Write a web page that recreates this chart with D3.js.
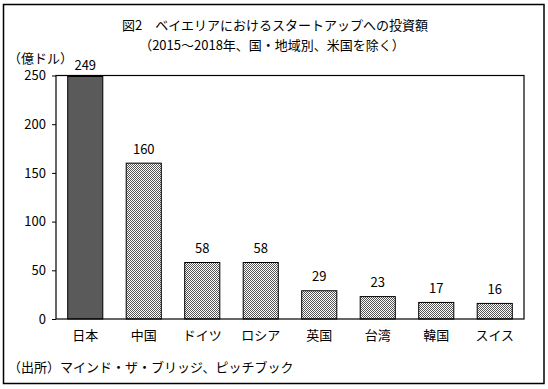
<!DOCTYPE html>
<html><head><meta charset="utf-8">
<script src="https://cdn.jsdelivr.net/npm/d3@7"></script>
<style>
html,body{margin:0;padding:0;background:#fff;}
svg{display:block;}
text{font-family:"Noto Sans CJK JP","Noto Sans",sans-serif;fill:#000;}
</style></head>
<body>
<svg id="c" width="548" height="389"></svg>
<script>
const categories = ["日本","中国","ドイツ","ロシア","英国","台湾","韓国","スイス"];
const values = [249,160,58,58,29,23,17,16];
const yTicks = [0,50,100,150,200,250];
const title = "図2\u3000ベイエリアにおけるスタートアップへの投資額";
const subtitle = "（2015～2018年、国・地域別、米国を除く）";
const unitLabel = "（億ドル）";
const sourceNote = "（出所）マインド・ザ・ブリッジ、ピッチブック";

const svg = d3.select("#c");
const defs = svg.append("defs");
const pat = defs.append("pattern").attr("id","dots").attr("width",2).attr("height",2)
  .attr("patternUnits","userSpaceOnUse");
pat.append("rect").attr("width",2).attr("height",2).attr("fill","#fff");
pat.append("rect").attr("x",0).attr("y",0).attr("width",1).attr("height",1).attr("fill","#555");
pat.append("rect").attr("x",1).attr("y",1).attr("width",1).attr("height",1).attr("fill","#555");

// outer frame
svg.append("rect").attr("x",3.5).attr("y",4.5).attr("width",540.5).attr("height",379)
  .attr("fill","none").attr("stroke","#000").attr("stroke-width",1.5);

const L=56, R=524, T=75.5, B=319;
const x = d3.scaleBand().domain(categories).range([L,R]).paddingInner(0.4).paddingOuter(0.2);
const y = d3.scaleLinear().domain([0,250]).range([B,T]);

svg.append("text").attr("x",275).attr("y",24).attr("text-anchor","middle")
  .attr("dominant-baseline","central").style("font-size","13px").text(title);
svg.append("text").attr("x",272).attr("y",44).attr("text-anchor","middle")
  .attr("dominant-baseline","central").style("font-size","13px").text(subtitle);
svg.append("text").attr("x",8).attr("y",57).attr("dominant-baseline","central")
  .style("font-size","13px").text(unitLabel);

// bars
svg.selectAll("rect.bar").data(values).join("rect").attr("class","bar")
  .attr("x",(d,i)=>x(categories[i])).attr("width",x.bandwidth())
  .attr("y",d=>y(d)).attr("height",d=>B-y(d))
  .attr("fill",(d,i)=>i===0?"#5a5a5a":"url(#dots)")
  .attr("stroke","#000").attr("stroke-width",1);

// value labels
svg.selectAll("text.val").data(values).join("text").attr("class","val")
  .attr("x",(d,i)=>x(categories[i])+x.bandwidth()/2)
  .attr("y",d=>Math.max(y(d)-15,64))
  .attr("text-anchor","middle").attr("dominant-baseline","central")
  .style("font-size","13px").text(d=>d);

// plot frame
svg.append("rect").attr("x",L).attr("y",T).attr("width",R-L).attr("height",B-T)
  .attr("fill","none").attr("stroke","#000").attr("stroke-width",1.2);

// y axis
const yAxis = d3.axisLeft(y).tickValues(yTicks).tickSize(4).tickPadding(6);
const gy = svg.append("g").attr("transform",`translate(${L},0)`).call(yAxis);
gy.select(".domain").remove();
gy.selectAll("text").style("font-size","13px").style("font-family",'"Noto Sans CJK JP",sans-serif');

// x labels
const xAxis = d3.axisBottom(x).tickSize(0).tickPadding(12);
const gx = svg.append("g").attr("transform",`translate(0,${B})`).call(xAxis);
gx.select(".domain").remove();
gx.selectAll("text").style("font-size","13px").style("font-family",'"Noto Sans CJK JP",sans-serif');

svg.append("text").attr("x",8).attr("y",366).attr("dominant-baseline","central")
  .style("font-size","13px").text(sourceNote);
</script>
</body></html>
